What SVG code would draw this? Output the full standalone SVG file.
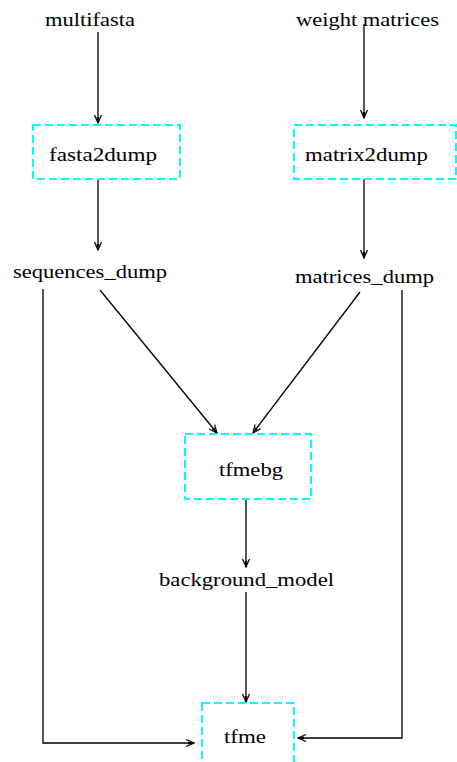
<svg xmlns="http://www.w3.org/2000/svg" width="457" height="762" viewBox="0 0 457 762">
<style>
.t{font-family:"Liberation Serif","DejaVu Serif",serif;font-size:18px;fill:#000}
.box{fill:none;stroke:#00ffff;stroke-width:2;stroke-dasharray:8 4}
.e{fill:none;stroke:#000;stroke-width:1.3}
</style>
<defs>
<marker id="a" markerWidth="10" markerHeight="10" refX="9" refY="5" orient="auto" markerUnits="userSpaceOnUse">
<path d="M1,1.5 L9,5 L1,8.5" fill="none" stroke="#000" stroke-width="1.2"/>
<path d="M3,3.5 L9,5 L3,6.5 Z" fill="#000"/>
</marker>
</defs>
<rect width="457" height="762" fill="#fff"/>
<g id="edges">
<line class="e" x1="98" y1="32" x2="98" y2="123" marker-end="url(#a)"/>
<line class="e" x1="98" y1="179" x2="98" y2="250" marker-end="url(#a)"/>
<line class="e" x1="364" y1="24" x2="364" y2="118" marker-end="url(#a)"/>
<line class="e" x1="364" y1="179" x2="364" y2="258" marker-end="url(#a)"/>
<line class="e" x1="100" y1="290" x2="217" y2="433" marker-end="url(#a)"/>
<line class="e" x1="360" y1="292" x2="253" y2="433" marker-end="url(#a)"/>
<line class="e" x1="246" y1="499" x2="246" y2="567" marker-end="url(#a)"/>
<line class="e" x1="246" y1="592" x2="246" y2="702" marker-end="url(#a)"/>
<polyline class="e" points="43,289 43,743 194,743" marker-end="url(#a)"/>
<polyline class="e" points="402,290 402,738 298,738" marker-end="url(#a)"/>
</g>
<g id="multifasta"><text class="t" x="45" y="26" textLength="90" lengthAdjust="spacingAndGlyphs">multifasta</text></g>
<g id="weight_matrices"><text class="t" x="296" y="26" textLength="143" lengthAdjust="spacingAndGlyphs">weight matrices</text></g>
<g id="fasta2dump"><rect class="box" x="33" y="125" width="147" height="54"/><text class="t" x="49" y="161" textLength="108" lengthAdjust="spacingAndGlyphs">fasta2dump</text></g>
<g id="matrix2dump"><rect class="box" x="294" y="125" width="162" height="54"/><text class="t" x="305" y="161" textLength="123" lengthAdjust="spacingAndGlyphs">matrix2dump</text></g>
<g id="sequences_dump"><text class="t" x="13" y="278" textLength="154" lengthAdjust="spacingAndGlyphs">sequences_dump</text></g>
<g id="matrices_dump"><text class="t" x="295" y="283" textLength="139" lengthAdjust="spacingAndGlyphs">matrices_dump</text></g>
<g id="tfmebg"><rect class="box" x="185" y="434" width="126" height="65"/><text class="t" x="219" y="476" textLength="64" lengthAdjust="spacingAndGlyphs">tfmebg</text></g>
<g id="background_model"><text class="t" x="159" y="586" textLength="175" lengthAdjust="spacingAndGlyphs">background_model</text></g>
<g id="tfme"><rect class="box" x="202" y="703" width="92" height="62"/><text class="t" x="224" y="743" textLength="42" lengthAdjust="spacingAndGlyphs">tfme</text></g>
</svg>
